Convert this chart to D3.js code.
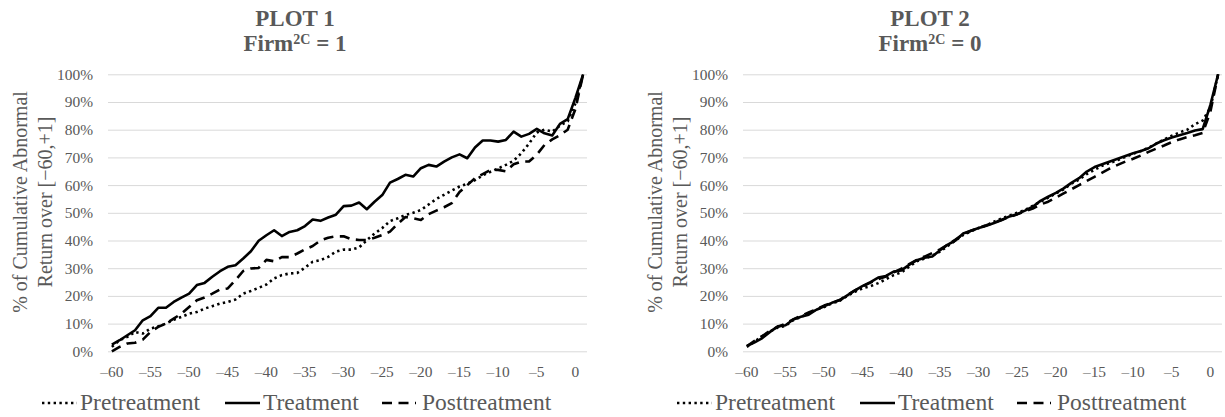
<!DOCTYPE html>
<html><head><meta charset="utf-8">
<script src="https://cdn.jsdelivr.net/npm/d3@7"></script>
<style>body{margin:0;background:#fff}svg{display:block}</style>
</head><body><svg id="c" width="1225" height="417"></svg>
<script>
const days = [-60,-59,-58,-57,-56,-55,-54,-53,-52,-51,-50,-49,-48,-47,-46,-45,-44,-43,-42,-41,-40,-39,-38,-37,-36,-35,-34,-33,-32,-31,-30,-29,-28,-27,-26,-25,-24,-23,-22,-21,-20,-19,-18,-17,-16,-15,-14,-13,-12,-11,-10,-9,-8,-7,-6,-5,-4,-3,-2,-1,0,1];
const xTickDays = [-60,-55,-50,-45,-40,-35,-30,-25,-20,-15,-10,-5,0];
const xTickLabels = ["–60","–55","–50","–45","–40","–35","–30","–25","–20","–15","–10","–5","0"];
const yTicks = [0,10,20,30,40,50,60,70,80,90,100];
const seriesNames = ["Pretreatment","Treatment","Posttreatment"];

const p1Pre = [1.6,4.0,5.2,7.0,6.4,8.2,9.0,10.0,11.4,12.4,13.6,14.2,15.4,16.3,17.2,17.8,18.7,20.8,21.8,22.9,24.1,26.3,27.5,28.1,28.3,30.2,32.3,32.9,34.1,36.0,36.7,36.7,37.5,40.1,42.5,44.5,47.0,48.0,49.2,50.0,51.0,53.0,55.0,56.5,58.0,59.5,60.5,61.8,63.5,64.8,66.0,67.3,68.8,71.5,75.0,79.0,80.0,79.3,81.5,83.0,89.5,100];
const p1Treat = [2.4,4.0,5.8,7.6,11.2,12.7,15.7,15.7,17.8,19.4,20.8,23.9,24.7,26.9,28.9,30.5,31.1,33.5,36.1,39.9,41.9,43.7,41.6,43.1,43.7,45.2,47.6,47.1,48.3,49.3,52.4,52.6,53.7,51.3,54.0,56.4,60.9,62.2,63.7,63.1,66.1,67.3,66.7,68.5,70.0,71.1,69.7,73.6,76.1,76.1,75.7,76.3,79.3,77.5,78.5,80.3,78.7,77.9,82.1,83.8,91.5,100];
const p1Post = [0,1.6,2.8,3.1,4.2,7.0,8.8,10.0,11.8,13.6,16.0,18.4,19.4,20.8,22.3,22.7,25.7,29.0,29.9,30.1,33.0,32.5,34.0,34.0,35.3,36.8,38.0,40.0,41.0,41.5,41.5,40.5,40.2,40.2,41.0,42.0,43.2,46.0,48.5,48.0,47.4,49.5,50.8,52.0,53.5,57.5,60.0,62.5,64.0,65.5,65.5,65.0,67.5,68.5,68.5,71.0,74.5,76.5,78.0,80.0,87.5,100];

const p2Pre = [1.6,3.5,5.5,7.2,8.6,9.2,11.2,12.4,13.8,15.0,16.0,17.3,18.2,20.0,21.5,22.8,23.5,24.6,26.0,27.5,28.5,30.5,32.5,33.5,34.5,36.0,38.0,40.0,42.0,43.3,44.5,45.5,46.8,48.0,49.0,50.0,51.0,52.5,54.0,55.5,57.0,58.5,60.5,62.0,64.0,65.5,67.0,68.0,69.0,70.2,71.3,72.3,73.5,75.0,76.5,77.8,79.0,80.0,82.0,83.3,88.0,100];
const p2Treat = [1.9,3.2,4.8,7.0,9.0,9.4,11.5,12.5,13.2,15.0,16.2,17.5,18.4,20.2,22.0,23.6,25.0,26.6,27.2,28.8,29.2,31.2,32.9,33.8,34.2,36.5,38.5,40.0,42.5,43.5,44.5,45.3,46.3,47.4,48.7,49.5,50.8,52.2,54.3,55.8,57.2,58.8,60.8,62.5,64.9,66.5,67.5,68.5,69.5,70.5,71.5,72.3,73.3,75.0,76.2,77.2,78.0,78.8,79.7,80.2,89.0,100];
const p2Post = [1.8,3.8,5.5,7.5,8.8,10.0,11.5,12.8,14.0,15.2,16.5,17.5,18.5,20.3,22.0,23.5,24.8,26.0,27.0,28.5,29.8,31.5,33.0,34.2,35.5,36.8,38.5,40.3,42.3,43.5,44.5,45.5,46.5,47.5,48.5,49.5,50.5,51.5,53.0,54.0,55.5,57.0,58.5,60.0,61.5,63.0,64.5,66.0,67.3,68.5,69.5,70.7,72.0,73.2,74.3,75.5,76.5,77.3,78.0,78.8,86.5,100];

const panels = [
  {title:"PLOT 1", firm:"1", series:[p1Pre,p1Treat,p1Post]},
  {title:"PLOT 2", firm:"0", series:[p2Pre,p2Treat,p2Post]}
];

const FONT = "'Liberation Serif','Times New Roman',serif";
const GREY = "#595959";
const styles = [
  {dash:"2.4 3.4", cap:"butt"},
  {dash:null, cap:"butt"},
  {dash:"10 6.5", cap:"butt"}
];
const svg = d3.select("#c").style("font-family", FONT);
const y = d3.scaleLinear().domain([0,100]).range([351.3,74.3]);

panels.forEach((p,pi)=>{
  const ox = pi*635;
  const left = 108+ox, right = 587+ox;
  const x = d3.scaleBand().domain(days).range([left,right]);
  const xc = d => x(d)+x.bandwidth()/2;
  const g = svg.append("g");

  // y axis with gridlines
  const ya = g.append("g").attr("transform",`translate(${left},0)`)
    .call(d3.axisLeft(y).tickValues(yTicks).tickFormat(d=>d+"%").tickSize(-(right-left)).tickPadding(15));
  ya.select(".domain").remove();
  ya.selectAll(".tick line").attr("stroke","#d9d9d9").attr("stroke-width",1);
  ya.selectAll(".tick text").attr("fill",GREY).style("font-size","15.4px").style("font-family",FONT);

  // x axis
  const xa = g.append("g").attr("transform",`translate(0,${y(0)})`)
    .call(d3.axisBottom(x).tickValues(xTickDays).tickFormat((d,i)=>xTickLabels[i]).tickSize(0).tickPadding(15));
  xa.select(".domain").remove();
  xa.selectAll(".tick text").attr("fill",GREY).style("font-size","15.4px").style("font-family",FONT);

  // lines
  const line = d3.line().x(d=>xc(d[0])).y(d=>y(d[1]));
  p.series.forEach((vals,si)=>{
    const pts = days.map((d,i)=>[d,vals[i]]);
    g.append("path").datum(pts).attr("d",line)
      .attr("fill","none").attr("stroke","#000").attr("stroke-width",2.6)
      .attr("stroke-linejoin","round").attr("stroke-linecap",styles[si].cap)
      .attr("stroke-dasharray",styles[si].dash);
  });

  // title
  const t = g.append("text").attr("text-anchor","middle").attr("fill",GREY)
    .style("font-weight","bold");
  t.append("tspan").attr("x",295+ox).attr("y",26).style("font-size","23px").text(p.title);
  const t2 = g.append("text").attr("text-anchor","middle").attr("fill",GREY)
    .style("font-weight","bold").attr("x",295+ox).attr("y",51).style("font-size","23px");
  t2.append("tspan").text("Firm");
  t2.append("tspan").attr("dy",-7).style("font-size","14px").text("2C");
  t2.append("tspan").attr("dy",7).text(" = "+p.firm);

  // y title
  const yt = g.append("text").attr("transform",`translate(${27+ox},202) rotate(-90)`)
    .attr("text-anchor","middle").attr("fill",GREY).style("font-size","20px");
  yt.append("tspan").attr("x",0).attr("y",0).text("% of Cumulative Abnormal");
  yt.append("tspan").attr("x",0).attr("y",25).text("Return over [−60,+1]");

  // legend
  const lg = g.append("g");
  const items = [
    {x1:42,x2:77,tx:80},
    {x1:225,x2:260,tx:263},
    {x1:382,x2:416,tx:422}
  ];
  items.forEach((it,si)=>{
    lg.append("line").attr("x1",it.x1+ox).attr("x2",it.x2+ox).attr("y1",403).attr("y2",403)
      .attr("stroke","#000").attr("stroke-width",2.6)
      .attr("stroke-dasharray",styles[si].dash);
    lg.append("text").attr("x",it.tx+ox).attr("y",410).attr("fill",GREY)
      .style("font-size","23.5px").text(seriesNames[si]);
  });
});
</script>
</body></html>
